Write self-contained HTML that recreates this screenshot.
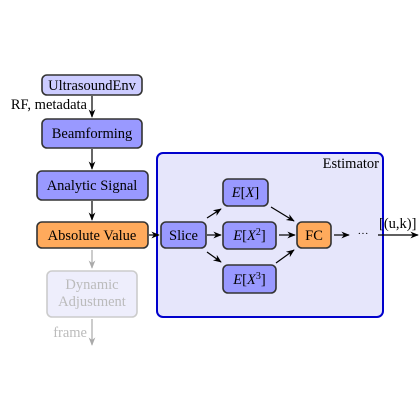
<!DOCTYPE html>
<html><head><meta charset="utf-8"><style>
html,body{margin:0;padding:0;background:#fff;}
svg{display:block;font-family:"Liberation Serif",serif;}
</style></head><body>
<svg width="420" height="420" viewBox="0 0 420 420">
<defs>
<marker id="ah" viewBox="0 0 10 10" refX="9" refY="5" markerWidth="7" markerHeight="7" orient="auto-start-reverse"><path d="M0,1 L10,5 L0,9 L3,5z" fill="#000"/></marker>
<marker id="ahg" viewBox="0 0 10 10" refX="9" refY="5" markerWidth="7" markerHeight="7" orient="auto"><path d="M0,1 L10,5 L0,9 L3,5z" fill="#aaa"/></marker>
</defs>
<g>
<rect x="157" y="153" width="226" height="164" rx="6" fill="#e6e6fb" stroke="#0000cc" stroke-width="2"/>
<text x="379" y="168" font-size="14.5" text-anchor="end">Estimator</text>
</g>
<g font-size="14.5" text-anchor="middle" stroke-width="1.6">
<rect x="42" y="75" width="100" height="20" rx="5" fill="#ccccff" stroke="#333"/>
<text x="92" y="90">UltrasoundEnv</text>
<rect x="42" y="119" width="100" height="29" rx="5" fill="#9999ff" stroke="#333"/>
<text x="92" y="138">Beamforming</text>
<rect x="37" y="171" width="111" height="29" rx="5" fill="#9999ff" stroke="#333"/>
<text x="92" y="190">Analytic Signal</text>
<rect x="37" y="222" width="111" height="26" rx="5" fill="#ffaa5c" stroke="#333"/>
<text x="92" y="240">Absolute Value</text>
<rect x="47" y="271" width="90" height="46" rx="5" fill="#eeeefc" stroke="#ccc"/>
<text fill="#bbb" x="92" y="289">Dynamic</text>
<text fill="#bbb" x="92" y="306">Adjustment</text>
<rect x="161" y="222" width="45" height="26" rx="5" fill="#9999ff" stroke="#333"/>
<text x="183.5" y="240">Slice</text>
<rect x="223" y="179" width="45" height="27" rx="5" fill="#9999ff" stroke="#333"/>
<text x="245.5" y="197" font-style="italic">E<tspan font-style="normal">[</tspan>X<tspan font-style="normal">]</tspan></text>
<rect x="223" y="222" width="53" height="27" rx="5" fill="#9999ff" stroke="#333"/>
<text x="249.5" y="240" font-style="italic">E<tspan font-style="normal">[</tspan>X<tspan font-style="normal" font-size="10" dy="-5">2</tspan><tspan font-style="normal" dy="5">]</tspan></text>
<rect x="223" y="265" width="53" height="28" rx="5" fill="#9999ff" stroke="#333"/>
<text x="249.5" y="284" font-style="italic">E<tspan font-style="normal">[</tspan>X<tspan font-style="normal" font-size="10" dy="-5">3</tspan><tspan font-style="normal" dy="5">]</tspan></text>
<rect x="297" y="222" width="34" height="26" rx="5" fill="#ffaa5c" stroke="#333"/>
<text x="314" y="240">FC</text>
</g>
<g stroke="#000" stroke-width="1.2" fill="none">
<line x1="92" y1="96" x2="92" y2="117" marker-end="url(#ah)"/>
<line x1="92" y1="149" x2="92" y2="169" marker-end="url(#ah)"/>
<line x1="92" y1="201" x2="92" y2="220" marker-end="url(#ah)"/>
<line x1="149" y1="235" x2="159" y2="235" marker-end="url(#ah)"/>
<line x1="207" y1="218" x2="221" y2="209" marker-end="url(#ah)"/>
<line x1="207" y1="235" x2="221" y2="235" marker-end="url(#ah)"/>
<line x1="207" y1="252" x2="221" y2="262" marker-end="url(#ah)"/>
<line x1="271" y1="207" x2="294" y2="221" marker-end="url(#ah)"/>
<line x1="279" y1="235" x2="295" y2="235" marker-end="url(#ah)"/>
<line x1="276" y1="263" x2="294" y2="250" marker-end="url(#ah)"/>
<line x1="334" y1="235" x2="349" y2="235" marker-end="url(#ah)"/>
<line x1="378" y1="235" x2="418" y2="235" marker-end="url(#ah)"/>
</g>
<g stroke="#aaa" stroke-width="1.2">
<line x1="92" y1="250" x2="92" y2="268" marker-end="url(#ahg)"/>
<line x1="92" y1="319" x2="92" y2="345" marker-end="url(#ahg)"/>
</g>
<text x="87" y="109" font-size="14.5" text-anchor="end">RF, metadata</text>
<text x="87" y="337" font-size="14.5" text-anchor="end" fill="#bbb">frame</text>
<text x="363" y="237" font-size="11" text-anchor="middle">···</text>
<text x="379" y="228" font-size="14.5">[(u,k)]</text>
</svg>
</body></html>
